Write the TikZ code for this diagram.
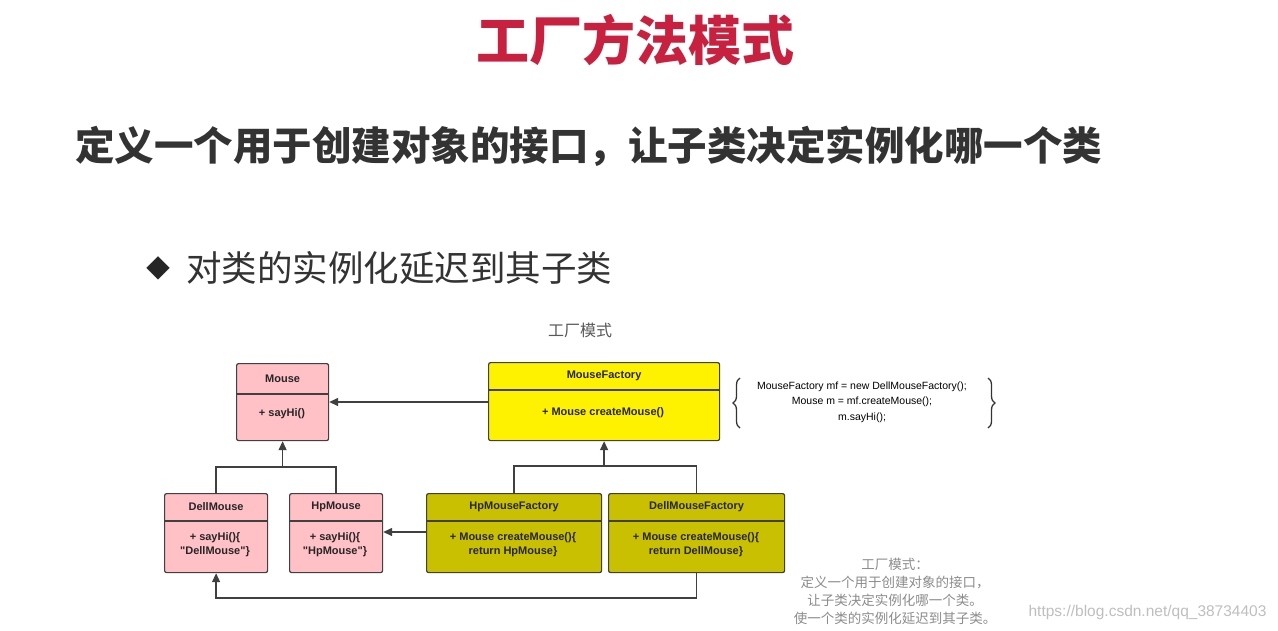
\documentclass[tikz,border=0pt]{standalone}
\usepackage{fontspec}
\setmainfont{Noto Sans CJK SC}
\newfontfamily\lat{Liberation Sans}
\usetikzlibrary{arrows.meta,decorations.pathreplacing}
\definecolor{pinkc}{HTML}{FFC0C6}
\definecolor{yelc}{HTML}{FFF200}
\definecolor{olivec}{HTML}{C8C000}
\definecolor{titred}{HTML}{C8203F}
\tikzset{
  umlbox/.style={draw=black!75,line width=1.2pt,rounded corners=2pt,anchor=north west,inner sep=0pt},
  cls/.style={font=\lat\fontsize{11}{13}\selectfont\bfseries,text=black!85},
  mem/.style={font=\lat\fontsize{11}{14}\selectfont\bfseries,text=black!85,align=center},
  conn/.style={draw=black!75,line width=1.4pt},
  tip/.style={-{Triangle[length=9pt,width=8pt]}}
}
\newcommand{\umlbox}[8]{% name, x, y, w, h, divider offset, fill, title
  \node[umlbox,fill=#7,minimum width=#4pt,minimum height=#5pt] (#1) at (#2,#3) {};
  \draw[black!75,line width=1.2pt] ([yshift=-#6pt]#1.north west) -- ([yshift=-#6pt]#1.north east);
  \node[cls] at ([yshift=-#6pt/2]#1.north) {#8};
}
\begin{document}
\begin{tikzpicture}[x=1pt,y=-1pt]
\useasboundingbox (0,0) rectangle (1278,630);
\fill[white] (0,0) rectangle (1278,630);
\node[text=titred,font=\fontsize{53}{60}\selectfont\bfseries] (title) at (635,40) {工厂方法模式};
\node[anchor=west,font=\fontsize{39.5}{46}\selectfont\bfseries,text=black!80,inner sep=0pt] (head) at (75,146) {定义一个用于创建对象的接口，让子类决定实例化哪一个类};
\node[anchor=west,font=\fontsize{24}{30}\selectfont,text=black!85] (bul) at (143,268) {◆};
\node[anchor=west,font=\fontsize{35.5}{40}\selectfont,text=black!80,inner sep=0pt] (sub) at (186,268) {对类的实例化延迟到其子类};
\node[font=\fontsize{16}{18}\selectfont,text=black!65] (cap) at (580,330) {工厂模式};

\umlbox{mouse}{236}{363}{92}{77}{31}{pinkc}{Mouse}
\node[mem] at (282,414) {+ sayHi()};
\umlbox{mf}{488}{362}{231}{78}{28}{yelc}{MouseFactory}
\node[mem] at (603,413) {+ Mouse createMouse()};
\umlbox{dell}{164}{493}{103}{79}{28}{pinkc}{DellMouse}
\node[mem] at (215,545) {+ sayHi()\{\\"DellMouse"\}};
\umlbox{hp}{289}{493}{93}{79}{28}{pinkc}{HpMouse}
\node[mem] at (335,545) {+ sayHi()\{\\"HpMouse"\}};
\umlbox{hpf}{426}{493}{175}{79}{28}{olivec}{HpMouseFactory}
\node[mem] at (513,545) {+ Mouse createMouse()\{\\return HpMouse\}};
\umlbox{dellf}{608}{493}{176}{79}{28}{olivec}{DellMouseFactory}
\node[mem] at (696,545) {+ Mouse createMouse()\{\\return DellMouse\}};

\coordinate (j1) at (mouse.south |- 0,467);
\coordinate (j2) at (mf.south |- 0,466);
\coordinate (j3) at (dell.south |- 0,598);
\draw[conn,tip] (mf.west |- 0,402) -- (mouse.east |- 0,402);
\draw[conn] (dell.north) |- (j1) -| (hp.north);
\draw[conn,tip] (j1) -- (mouse.south);
\draw[conn] (hpf.north) |- (j2) -| (dellf.north);
\draw[conn,tip] (j2) -- (mf.south);
\draw[conn,tip] (hpf.west |- 0,532) -- (hp.east |- 0,532);
\draw[conn,tip] (dellf.south) |- (j3) -- (dell.south);

\node[font=\lat\fontsize{10.5}{15.5}\selectfont,align=center,inner sep=1pt] (code) at (862,402) {MouseFactory mf = new DellMouseFactory();\\Mouse m = mf.createMouse();\\m.sayHi();};
\draw[line width=1.3pt,black!80,decorate,decoration={brace,amplitude=7pt}] (740,428) -- (740,378);
\draw[line width=1.3pt,black!80,decorate,decoration={brace,amplitude=7pt}] (988,378) -- (988,428);

\node[font=\fontsize{13.5}{18}\selectfont,align=center,text=black!45,anchor=north] (note) at (895,555) {工厂模式：\\定义一个用于创建对象的接口，\\让子类决定实例化哪一个类。\\使一个类的实例化延迟到其子类。};
\node[font=\lat\fontsize{15.5}{17}\selectfont,text=black!25,anchor=east] (wm) at (1270,612) {https://blog.csdn.net/qq\_38734403};
\end{tikzpicture}
\end{document}
